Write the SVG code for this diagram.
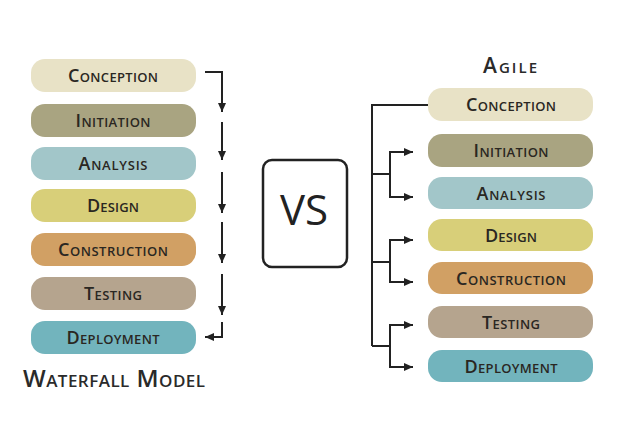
<svg xmlns="http://www.w3.org/2000/svg" width="634" height="421" viewBox="0 0 634 421">
<style>
  .lbl{font-family:"Open Sans","DejaVu Sans",sans-serif;font-weight:600;font-size:18px;font-variant:small-caps;fill:#2a2722;text-anchor:middle}
  .ttl{font-family:"Open Sans","DejaVu Sans",sans-serif;font-weight:600;font-variant:small-caps;fill:#2a2a2a}
  .ln{fill:none;stroke:#222;stroke-width:2}
  .c1{fill:#e8e2c6}.c2{fill:#a9a481}.c3{fill:#a2c6c9}.c4{fill:#d8cf79}.c5{fill:#d1a064}.c6{fill:#b5a48e}.c7{fill:#72b4bd}
</style>
<defs>
  <marker id="ah" markerUnits="userSpaceOnUse" markerWidth="11" markerHeight="11" viewBox="0 0 11 11" refX="10" refY="5.5" orient="auto">
    <path d="M1,1.5 L10,5.5 L1,9.5 Z" fill="#222"/>
  </marker>
</defs>
<rect width="634" height="421" fill="#fff"/>

<g id="waterfall">
  <g id="wf-conception"><rect class="c1" x="31" y="59" width="165" height="33" rx="14"/><text class="lbl" x="113" y="82" textLength="90" lengthAdjust="spacing">Conception</text></g>
  <g id="wf-initiation"><rect class="c2" x="31" y="104" width="165" height="33" rx="14"/><text class="lbl" x="113" y="127" textLength="75" lengthAdjust="spacing">Initiation</text></g>
  <g id="wf-analysis"><rect class="c3" x="31" y="147" width="165" height="33" rx="14"/><text class="lbl" x="113" y="170" textLength="69" lengthAdjust="spacing">Analysis</text></g>
  <g id="wf-design"><rect class="c4" x="31" y="189" width="165" height="33" rx="14"/><text class="lbl" x="113" y="212" textLength="52" lengthAdjust="spacing">Design</text></g>
  <g id="wf-construction"><rect class="c5" x="31" y="233" width="165" height="33" rx="14"/><text class="lbl" x="113" y="256" textLength="110" lengthAdjust="spacing">Construction</text></g>
  <g id="wf-testing"><rect class="c6" x="31" y="277" width="165" height="33" rx="14"/><text class="lbl" x="113" y="300" textLength="58" lengthAdjust="spacing">Testing</text></g>
  <g id="wf-deployment"><rect class="c7" x="31" y="321" width="165" height="33" rx="14"/><text class="lbl" x="113" y="344" textLength="93" lengthAdjust="spacing">Deployment</text></g>
  <text id="wf-title" class="ttl" x="23" y="387" font-size="24" textLength="182" lengthAdjust="spacing">Waterfall Model</text>
</g>

<g id="vs">
  <rect x="263" y="160" width="84" height="107" rx="9" fill="#fff" stroke="#222" stroke-width="2.5"/>
  <text x="304" y="225" font-family="Open Sans, DejaVu Sans, sans-serif" font-size="42" fill="#222" text-anchor="middle">VS</text>
</g>

<g id="agile">
  <text id="ag-title" class="ttl" x="510" y="73" font-size="21" text-anchor="middle" textLength="54" lengthAdjust="spacing">Agile</text>
  <g id="ag-conception"><rect class="c1" x="428" y="88" width="165" height="33" rx="14"/><text class="lbl" x="511" y="111" textLength="90" lengthAdjust="spacing">Conception</text></g>
  <g id="ag-initiation"><rect class="c2" x="428" y="134" width="165" height="33" rx="14"/><text class="lbl" x="511" y="157" textLength="75" lengthAdjust="spacing">Initiation</text></g>
  <g id="ag-analysis"><rect class="c3" x="428" y="177" width="165" height="32" rx="14"/><text class="lbl" x="511" y="200" textLength="69" lengthAdjust="spacing">Analysis</text></g>
  <g id="ag-design"><rect class="c4" x="428" y="219" width="165" height="32" rx="14"/><text class="lbl" x="511" y="242" textLength="52" lengthAdjust="spacing">Design</text></g>
  <g id="ag-construction"><rect class="c5" x="428" y="262" width="165" height="32" rx="14"/><text class="lbl" x="511" y="285" textLength="110" lengthAdjust="spacing">Construction</text></g>
  <g id="ag-testing"><rect class="c6" x="428" y="306" width="165" height="32" rx="14"/><text class="lbl" x="511" y="329" textLength="58" lengthAdjust="spacing">Testing</text></g>
  <g id="ag-deployment"><rect class="c7" x="428" y="350" width="165" height="32" rx="14"/><text class="lbl" x="511" y="373" textLength="93" lengthAdjust="spacing">Deployment</text></g>
</g>

<g id="connectors">
  <path class="ln" d="M205,72 H222 V112" marker-end="url(#ah)"/>
  <path class="ln" d="M222,122 V160" marker-end="url(#ah)"/>
  <path class="ln" d="M222,172 V213" marker-end="url(#ah)"/>
  <path class="ln" d="M222,222 V263" marker-end="url(#ah)"/>
  <path class="ln" d="M222,274 V315" marker-end="url(#ah)"/>
  <path class="ln" d="M222,322 V337 H205" marker-end="url(#ah)"/>

  <path class="ln" d="M428,105 H372 V346"/>
  <path class="ln" d="M372,174 H390"/>
  <path class="ln" d="M390,174 V152 H413" marker-end="url(#ah)"/>
  <path class="ln" d="M390,174 V197 H413" marker-end="url(#ah)"/>
  <path class="ln" d="M372,262 H390"/>
  <path class="ln" d="M390,262 V240 H413" marker-end="url(#ah)"/>
  <path class="ln" d="M390,262 V282 H413" marker-end="url(#ah)"/>
  <path class="ln" d="M372,346 H390"/>
  <path class="ln" d="M390,346 V325 H413" marker-end="url(#ah)"/>
  <path class="ln" d="M390,346 V367 H413" marker-end="url(#ah)"/>
</g>
</svg>
